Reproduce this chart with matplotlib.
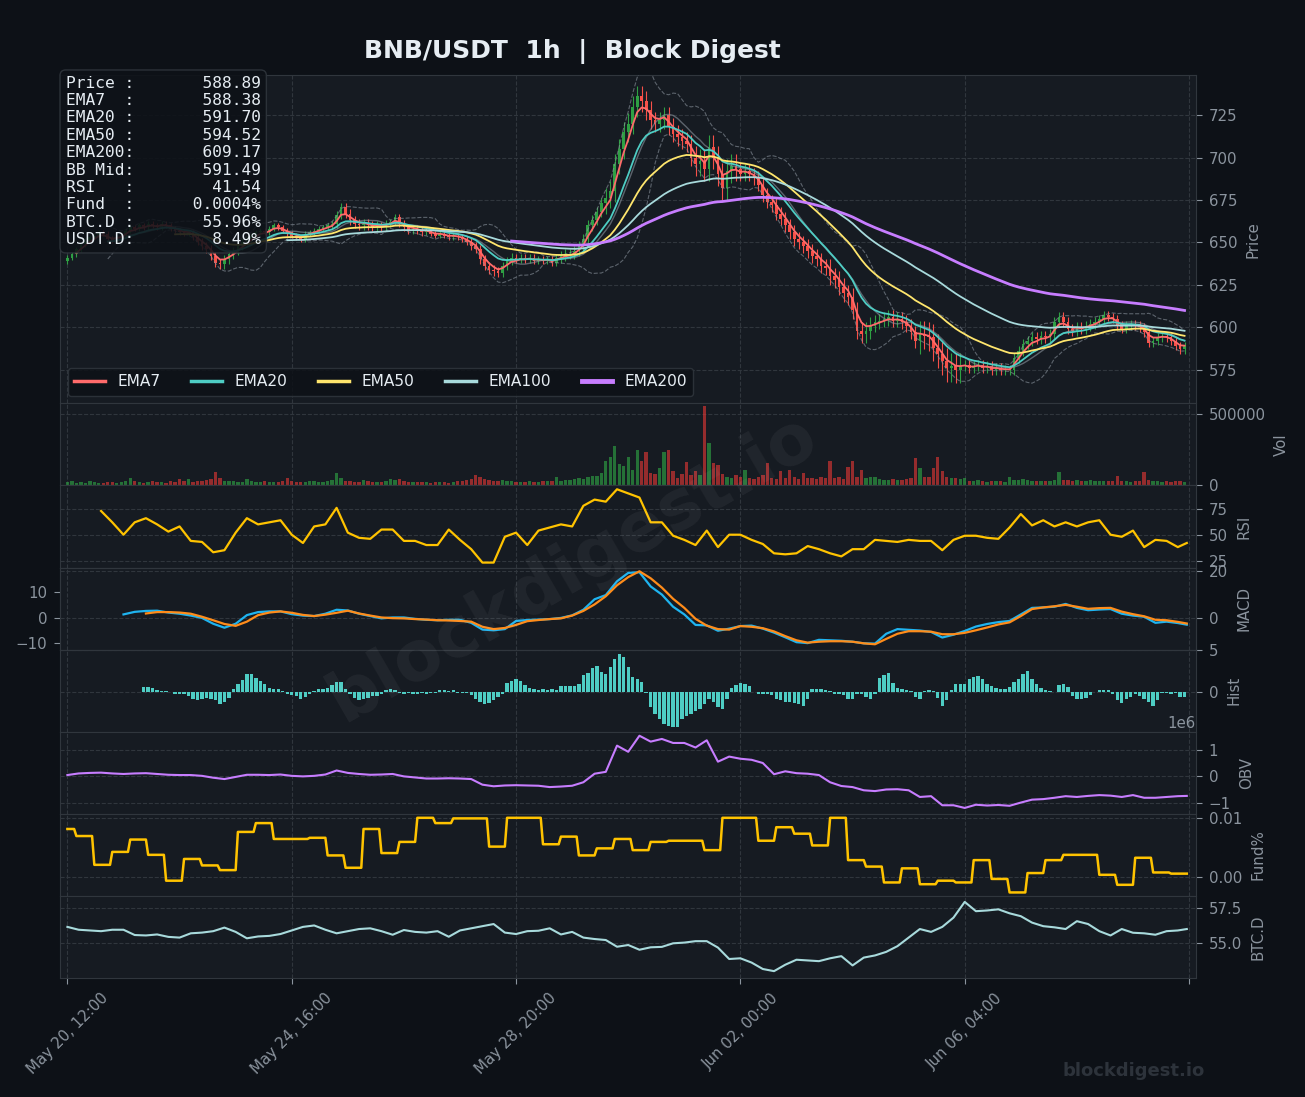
import numpy as np
import pandas as pd
import matplotlib
matplotlib.use("Agg")
import matplotlib.pyplot as plt
from matplotlib.lines import Line2D

BG = "#0d1117"
PANEL = "#161b22"
GRID = "#30363d"
TXT = "#8b949e"
WHITE = "#e6edf3"

# ---- price, 2h candles (x index in hours) ----
close = [
    641, 643, 646, 649, 651, 653, 654, 656, 655, 652,
    651, 653, 654, 657, 659, 658, 660, 659, 661, 660,
    659, 661, 660, 658, 657, 656, 655, 656, 653, 650,
    648, 646, 642, 638, 637, 640, 643, 645, 648, 650,
    652, 654, 656, 657, 656, 658, 660, 659, 657, 655,
    654, 653, 652, 655, 656, 657, 658, 659, 660, 661,
    666, 671, 667, 663, 661, 660, 661, 660, 659, 660,
    659, 661, 662, 665, 661, 659, 657, 658, 657, 656,
    657, 655, 654, 655, 654, 653, 654, 653, 652, 650,
    648, 646, 640, 636, 634, 633, 632, 636, 639, 641,
    640, 641, 640, 641, 639, 640, 639, 640, 638, 641,
    642, 643, 643, 645, 648, 652, 660, 663, 668, 673,
    676, 680, 696, 705, 715, 720, 730, 736, 733, 728,
    722, 720, 722, 725, 718, 714, 712, 710, 708, 700,
    696, 698, 693, 706, 700, 690, 682, 692, 695, 693,
    690, 692, 690, 688, 684, 678, 674, 672, 667, 664,
    660, 656, 652, 650, 648, 645, 642, 640, 636, 635,
    630, 628, 624, 620, 618, 610, 598, 596, 598, 601,
    603, 604, 605, 606, 604, 605, 603, 601, 597, 592,
    596, 595, 594, 588, 584, 580, 576, 577, 575, 577,
    578, 576, 577, 578, 576, 577, 575, 576, 575, 575,
    575, 582, 586, 590, 592, 594, 593, 595, 594, 596,
    603, 606, 603, 599, 598, 600, 599, 601, 602, 603,
    605, 607, 606, 605, 601, 599, 601, 602, 601, 600,
    597, 591, 592, 594, 595, 594, 592, 589, 587, 588.89,
]
# wick length per block of 10 candles
wick = [1.5, 1.5, 1.5, 2.5, 1.5, 1.5, 2.5, 2, 1.5, 2.5,
        2, 3, 6, 5, 7, 4, 4, 5, 4, 8, 3, 3, 3, 2.5, 2.5]

vol_k = [
    25, 30, 18, 22, 20, 28, 24, 18, 20, 26,
    22, 18, 25, 30, 53, 28, 22, 20, 24, 30,
    22, 26, 20, 28, 24, 48, 30, 45, 26, 34,
    30, 36, 42, 96, 55, 34, 28, 30, 24, 26,
    45, 28, 24, 22, 30, 26, 24, 22, 28, 50,
    30, 26, 22, 24, 28, 30, 26, 24, 32, 40,
    90, 55, 34, 30, 26, 24, 40, 28, 24, 22,
    26, 30, 45, 40, 45, 28, 24, 22, 26, 24,
    22, 20, 24, 26, 22, 20, 24, 28, 30, 36,
    44, 75, 60, 45, 38, 34, 30, 36, 30, 28,
    26, 24, 22, 28, 24, 26, 30, 28, 34, 60,
    32, 40, 36, 44, 52, 48, 62, 68, 66, 85,
    170, 200, 280, 150, 135, 200, 110, 250, 170, 235,
    90, 80, 125, 235, 250, 100, 50, 80, 165, 70,
    100, 70, 560, 300, 160, 145, 80, 60, 50, 70,
    60, 110, 50, 45, 60, 70, 160, 55, 45, 100,
    50, 110, 60, 45, 90, 50, 55, 45, 60, 50,
    170, 55, 60, 45, 130, 170, 60, 110, 50, 60,
    60, 45, 40, 35, 45, 40, 35, 45, 50, 190,
    120, 60, 60, 120, 200, 100, 60, 50, 55, 45,
    50, 30, 28, 35, 30, 25, 32, 28, 30, 26,
    60, 35, 40, 45, 38, 30, 28, 34, 30, 32,
    35, 95, 40, 35, 30, 38, 32, 28, 35, 30,
    34, 30, 28, 32, 65, 30, 28, 26, 30, 32,
    95, 35, 28, 30, 26, 30, 24, 28, 30, 26,
]

# MACD histogram, 2h steps starting at candle 17
hist = [
    0.6, 0.6, 0.5, 0.2, 0.1, 0.1, 0.0, -0.2, -0.2, -0.3,
    -0.5, -0.9, -1.0, -0.8, -0.7, -0.8, -1.0, -1.5, -1.2, -0.7,
    0.3, 0.9, 1.4, 2.1, 2.1, 1.7, 1.3, 0.9, 0.5, 0.4,
    0.3, 0.1, -0.3, -0.4, -0.5, -0.8, -0.6, -0.2, 0.1, 0.3,
    0.4, 0.5, 0.8, 1.2, 1.2, 0.3, -0.2, -0.7, -1.0, -0.9,
    -0.7, -0.5, -0.5, -0.3, 0.2, 0.3, 0.2, -0.1, -0.2, -0.1,
    -0.2, -0.2, -0.1, -0.3, -0.1, -0.1, 0.2, 0.2, 0.1, 0.2,
    -0.1, -0.1, -0.1, -0.4, -0.8, -1.2, -1.5, -1.3, -1.0, -0.6,
    -0.2, 1.1, 1.3, 1.5, 1.3, 0.8, 0.5, 0.3, 0.2, 0.3,
    0.2, 0.4, 0.2, 0.7, 0.7, 0.7, 0.7, 1.0, 2.0, 2.3,
    2.9, 3.1, 2.4, 2.2, 3.0, 4.0, 4.6, 4.2, 3.0, 1.8,
    1.6, 1.2, -0.1, -1.8, -2.6, -3.3, -3.9, -4.1, -4.2, -4.2,
    -3.3, -2.9, -2.6, -2.3, -2.0, -1.5, -0.9, -1.2, -1.8, -2.1,
    -0.8, 0.5, 0.8, 1.1, 0.9, 0.7, 0.0, -0.3, -0.3, -0.2,
    -0.4, -0.8, -1.0, -1.2, -1.2, -1.3, -1.5, -1.7, -0.8, 0.3,
    0.3, 0.3, 0.2, 0.1, -0.2, -0.3, -0.4, -0.9, -0.9, -0.3,
    -0.2, -0.6, -0.9, -0.2, 1.7, 2.0, 2.3, 1.1, 0.5, 0.3,
    0.2, 0.1, -0.6, -0.9, 0.1, 0.2, 0.1, -0.7, -1.7, -1.0,
    0.2, 0.9, 0.9, 1.0, 1.5, 1.8, 1.9, 1.6, 1.0, 0.7,
    0.5, 0.4, 0.3, 0.6, 1.2, 1.6, 2.1, 2.5, 1.6, 0.9,
    0.5, 0.2, 0.1, 0.0, 0.8, 0.9, 0.6, -0.5, -0.8, -0.9,
    -0.7, -0.4, 0.0, 0.2, 0.2, 0.2, -0.3, -1.0, -1.3, -0.9,
    -0.6, -0.3, -0.5, -0.8, -1.2, -1.7, -1.0, -0.1, -0.1, -0.2,
    -0.1, -0.6, -0.6,
]

nan = np.nan
# indicators sampled every 5 hours, plus the last hour
rsi = [
    nan, nan, nan, 73, 62, 50, 62, 66, 60, 53,
    58, 44, 43, 33, 35, 52, 66, 60, 62, 64,
    50, 42, 58, 60, 76, 52, 47, 46, 55, 55,
    44, 44, 40, 40, 55, 45, 36, 23, 23, 48,
    52, 40, 54, 57, 60, 58, 78, 84, 82, 94,
    90, 86, 62, 62, 49, 45, 40, 54, 38, 50,
    50, 45, 41, 32, 31, 32, 39, 36, 32, 29,
    36, 36, 45, 44, 43, 45, 44, 44, 35, 45,
    49, 49, 47, 46, 57, 70, 59, 64, 58, 62,
    58, 62, 64, 50, 48, 54, 38, 45, 44, 38,
    42,
]
macd = [
    nan, nan, nan, nan, nan, 1.5, 2.6, 3.0, 3.1, 2.3,
    1.8, 1.0, 0.0, -2.5, -4.2, -2.5, 1.2, 2.5, 2.8, 2.8,
    1.6, 1.0, 0.8, 1.8, 3.5, 3.2, 1.8, 0.8, -0.2, 0.2,
    0.2, -0.4, -0.8, -1.0, -0.8, -0.8, -2.1, -5.0, -5.3, -4.8,
    -1.3, -0.9, -0.7, -0.5, 0.0, 1.1, 3.5, 8.0, 9.8, 15.7,
    19.3, 19.6, 13.5, 10.0, 4.8, 1.5, -3.0, -3.2, -5.5, -4.6,
    -3.5, -3.3, -4.6, -6.3, -8.3, -10.4, -10.8, -9.4, -9.6, -9.8,
    -10.2, -10.9, -11.0, -6.8, -4.8, -5.1, -5.4, -6.0, -8.4, -7.2,
    -5.6, -3.7, -2.6, -1.8, -1.3, 1.5, 4.3, 4.5, 4.8, 6.0,
    4.3, 3.3, 3.6, 3.8, 1.8, 1.0, 0.5, -2.1, -1.6, -2.2,
    -2.9,
]
signal = [
    nan, nan, nan, nan, nan, nan, nan, 1.9, 2.5, 2.5,
    2.3, 1.8, 0.5, -1.0, -2.6, -3.4, -1.6, 1.2, 2.3, 2.8,
    2.2, 1.3, 0.8, 1.4, 2.2, 3.1, 1.9, 1.0, 0.2, -0.1,
    -0.2, -0.5, -0.7, -1.0, -1.1, -1.3, -1.6, -3.8, -4.8, -4.3,
    -3.0, -1.4, -0.9, -0.5, -0.2, 1.0, 3.0, 5.8, 9.3, 14.0,
    17.5, 20.0, 17.0, 13.0, 8.2, 4.3, -0.4, -3.3, -4.8, -5.0,
    -3.5, -3.8, -4.4, -5.8, -7.8, -9.6, -10.6, -10.2, -10.0, -10.0,
    -10.2, -10.9, -11.3, -9.0, -6.8, -5.7, -5.7, -5.9, -7.0, -7.0,
    -6.4, -5.3, -4.1, -2.8, -1.9, 0.8, 3.8, 4.5, 5.0, 5.6,
    4.8, 3.9, 4.2, 4.3, 2.7, 1.6, 0.7, -0.8, -1.0, -1.7,
    -2.4,
]
obv_m = [
    0.05, 0.11, 0.13, 0.14, 0.11, 0.09, 0.11, 0.12, 0.09, 0.06,
    0.05, 0.05, 0.02, -0.05, -0.10, -0.02, 0.06, 0.06, 0.05, 0.07,
    0.02, 0.00, 0.02, 0.07, 0.22, 0.13, 0.09, 0.06, 0.07, 0.09,
    0.00, -0.04, -0.08, -0.08, -0.07, -0.08, -0.10, -0.31, -0.37, -0.34,
    -0.33, -0.34, -0.35, -0.40, -0.38, -0.35, -0.22, 0.10, 0.17, 1.15,
    0.92, 1.52, 1.30, 1.40, 1.25, 1.25, 1.08, 1.35, 0.55, 0.74,
    0.66, 0.62, 0.50, 0.08, 0.19, 0.12, 0.10, 0.05, -0.22, -0.36,
    -0.40, -0.52, -0.55, -0.49, -0.48, -0.52, -0.77, -0.74, -1.08, -1.08,
    -1.18, -1.06, -1.09, -1.07, -1.10, -0.98, -0.87, -0.85, -0.80, -0.74,
    -0.77, -0.73, -0.70, -0.72, -0.77, -0.70, -0.80, -0.80, -0.77, -0.74,
    -0.73,
]
btcd = [
    56.15, 55.95, 55.90, 55.85, 55.95, 55.95, 55.58, 55.55, 55.62, 55.45,
    55.40, 55.70, 55.75, 55.85, 56.10, 55.80, 55.35, 55.48, 55.52, 55.65,
    55.90, 56.15, 56.25, 55.95, 55.70, 55.85, 56.00, 56.05, 55.85, 55.60,
    55.93, 55.80, 55.75, 55.85, 55.46, 55.90, 56.05, 56.20, 56.35, 55.75,
    55.65, 55.85, 55.88, 56.05, 55.62, 55.80, 55.40, 55.30, 55.23, 54.76,
    54.88, 54.55, 54.72, 54.75, 55.00, 55.05, 55.15, 55.15, 54.70, 53.90,
    53.95, 53.65, 53.20, 53.05, 53.50, 53.85, 53.80, 53.75, 53.95, 54.10,
    53.45, 54.00, 54.15, 54.40, 54.80, 55.40, 56.00, 55.80, 56.15, 56.80,
    57.90, 57.25, 57.30, 57.38, 57.10, 56.90, 56.45, 56.20, 56.12, 56.00,
    56.55, 56.35, 55.85, 55.55, 56.00, 55.74, 55.70, 55.60, 55.85, 55.90,
    56.00,
]
# funding rate (%) per 8h period, first period starts at hour -4
fund = [
    0.0081, 0.0069, 0.0020, 0.0042, 0.0063, 0.0037, -0.0007, 0.0030, 0.0019, 0.0011,
    0.0076, 0.0091, 0.0064, 0.0064, 0.0066, 0.0036, 0.0015, 0.0081, 0.0040, 0.0059,
    0.0100, 0.0091, 0.0099, 0.0099, 0.0051, 0.0100, 0.0100, 0.0055, 0.0068, 0.0036,
    0.0048, 0.0064, 0.0045, 0.0059, 0.0061, 0.0061, 0.0045, 0.0100, 0.0100, 0.0061,
    0.0084, 0.0073, 0.0053, 0.0100, 0.0028, 0.0017, -0.0010, 0.0014, -0.0013, -0.0007,
    -0.0010, 0.0028, -0.0004, -0.0027, 0.0006, 0.0028, 0.0037, 0.0037, 0.0003, -0.0014,
    0.0032, 0.0007, 0.0005,
]

info_labels = ["Price :", "EMA7  :", "EMA20 :", "EMA50 :", "EMA200:",
               "BB Mid:", "RSI   :", "Fund  :", "BTC.D :", "USDT.D:"]
info_values = ["588.89", "588.38", "591.70", "594.52", "609.17",
               "591.49", "41.54", "0.0004%", "55.96%", "8.49%"]

tick_pos = [0, 100, 200, 300, 400, 500]
tick_labels = ["May 20, 12:00", "May 24, 16:00", "May 28, 20:00",
               "Jun 02, 00:00", "Jun 06, 04:00", ""]

ema_names = ["EMA7", "EMA20", "EMA50", "EMA100", "EMA200"]
ema_hours = [7, 20, 50, 100, 200]
ema_colors = ["#ff6b6b", "#4ecdc4", "#ffe66d", "#a8dadc", "#c77dff"]

# ---- derived arrays ----
c = np.array(close, float)
o = np.r_[c[0] - 2, c[:-1]]
x2 = np.arange(len(c)) * 2
w = np.repeat(wick, 10)
hi = np.maximum(o, c) + w
lo = np.minimum(o, c) - w
up = c >= o
col = np.where(up, "#2ea043", "#f85149")
vcol = np.where(up, "#2ea043", "#da3633")

s = pd.Series(c)
emas = [s.ewm(span=h / 2, adjust=False, min_periods=h // 2).mean() for h in ema_hours]
bb_mid = s.rolling(10).mean()
bb_sd = s.rolling(10).std(ddof=0)

x5 = np.r_[np.arange(0, 500, 5), 499]
xh = (np.arange(len(hist)) + 17) * 2
fund_h = np.repeat(fund, 8)[4:504]

# ---- figure ----
plt.rcParams["font.size"] = 10.8
fig = plt.figure(figsize=(13.05, 10.97), dpi=100, facecolor=BG)
gs = fig.add_gridspec(8, 1, height_ratios=[4, 1, 1, 1, 1, 1, 1, 1], hspace=0,
                      left=60 / 1305, right=1196 / 1305,
                      top=1 - 75 / 1097, bottom=1 - 978 / 1097)
axes = [fig.add_subplot(gs[0])]
for k in range(1, 8):
    axes.append(fig.add_subplot(gs[k], sharex=axes[0]))
ax_p, ax_v, ax_r, ax_m, ax_h, ax_o, ax_f, ax_b = axes

for ax in axes:
    ax.set_facecolor(PANEL)
    for sp in ax.spines.values():
        sp.set_color(GRID)
    ax.grid(True, color=GRID, ls="--", lw=0.8)
    ax.set_axisbelow(True)
    ax.yaxis.tick_right()
    ax.yaxis.set_label_position("right")
    ax.tick_params(colors=TXT, labelsize=10.8, length=4.2, pad=5)
    ax.yaxis.label.set_color(TXT)
    if ax is not ax_b:
        ax.tick_params(axis="x", bottom=False, labelbottom=False)

# price
ax_p.vlines(x2, lo, hi, colors=col, lw=0.8, zorder=2)
ax_p.bar(x2, np.maximum(np.abs(c - o), 0.4), bottom=np.minimum(o, c),
         width=1.2, color=col, zorder=2)
ax_p.plot(x2, bb_mid + 2 * bb_sd, color=TXT, ls="--", lw=0.8, alpha=0.6, zorder=3)
ax_p.plot(x2, bb_mid - 2 * bb_sd, color=TXT, ls="--", lw=0.8, alpha=0.6, zorder=3)
ax_p.plot(x2, bb_mid, color=TXT, lw=1.0, alpha=0.6, zorder=3)
for e, clr, h in zip(emas, ema_colors, ema_hours):
    ax_p.plot(x2, e, color=clr, lw=2.0 if h == 200 else 1.3, zorder=4)
ax_p.set_ylim(555.2, 748.6)
ax_p.set_yticks([575, 600, 625, 650, 675, 700, 725])
ax_p.set_ylabel("Price", labelpad=6)
handles = [Line2D([], [], color=clr, lw=3.5 if h == 200 else 2.5)
           for clr, h in zip(ema_colors, ema_hours)]
ax_p.legend(handles, ema_names, loc="lower left", ncol=5, fontsize=11.1,
            facecolor=BG, edgecolor=GRID, labelcolor=WHITE, framealpha=0.85)
info = "\n".join(f"{a}{b:>13}" for a, b in zip(info_labels, info_values))
ax_p.text(0.005, 0.998, info, transform=ax_p.transAxes, va="top", ha="left",
          family="DejaVu Sans Mono", fontsize=11.7, color=WHITE, linespacing=1.2,
          zorder=10, bbox=dict(boxstyle="round,pad=0.35", fc=BG, ec=GRID, alpha=0.88))

# volume
ax_v.bar(x2, np.array(vol_k) * 1000, width=1.5, color=vcol, alpha=0.65)
ax_v.set_ylim(0, 576000)
ax_v.set_yticks([0, 500000])
ax_v.set_ylabel("Vol", labelpad=6)

# RSI
ax_r.plot(x5, rsi, color="#ffc300", lw=1.6)
ax_r.set_ylim(18.2, 97.7)
ax_r.set_yticks([25, 50, 75])
ax_r.set_ylabel("RSI", labelpad=6)

# MACD
ax_m2 = ax_m.twinx()
ax_m.yaxis.tick_right()
ax_m.yaxis.set_label_position("right")
ax_m2.yaxis.tick_left()
ax_m.plot(x5, macd, color="#1fb4f0", lw=1.6)
ax_m.plot(x5, signal, color="#ff8c1a", lw=1.6)
ax_m.set_ylim(-13.6, 21.6)
ax_m.set_yticks([0, 20])
ax_m.set_ylabel("MACD", labelpad=6)
ax_m2.set_ylim(-12.45, 19.5)
ax_m2.set_yticks([-10, 0, 10])
ax_m2.tick_params(colors=TXT, labelsize=10.8, length=4.2, pad=5)
for sp in ax_m2.spines.values():
    sp.set_color(GRID)

# histogram
ax_h.bar(xh, hist, width=1.5, color="#4ecdc4")
ax_h.set_ylim(-4.77, 5.08)
ax_h.set_yticks([0, 5])
ax_h.set_ylabel("Hist", labelpad=6)

# OBV
ax_o.plot(x5, np.array(obv_m) * 1e6, color="#c77dff", lw=1.5)
ax_o.set_ylim(-1.40e6, 1.67e6)
ax_o.set_yticks([-1e6, 0, 1e6])
ax_o.yaxis.get_offset_text().set_color(TXT)
ax_o.set_ylabel("OBV", labelpad=6)

# funding
ax_f.plot(np.arange(500), fund_h, color="#ffc300", lw=1.8)
ax_f.set_ylim(-0.00329, 0.01068)
ax_f.set_yticks([0, 0.01])
ax_f.set_ylabel("Fund%", labelpad=6)

# BTC dominance
ax_b.plot(x5, btcd, color="#a8dadc", lw=1.5)
ax_b.set_ylim(52.57, 58.32)
ax_b.set_yticks([55, 57.5])
ax_b.set_ylabel("BTC.D", labelpad=6)

ax_b.set_xlim(-3.3, 503.1)
ax_b.set_xticks(tick_pos)
ax_b.set_xticklabels(tick_labels, rotation=45, ha="center")

fig.text(572.5 / 1305, 1 - 52 / 1097, "BNB/USDT  1h  |  Block Digest", ha="center",
         va="center", fontsize=18, fontweight="bold", color=WHITE)
fig.text(572 / 1305, 1 - 568 / 1097, "blockdigest.io", ha="center", va="center",
         fontsize=50, fontweight="bold", color="white", alpha=0.05, rotation=30)
fig.text(1134 / 1305, 1 - 1071 / 1097, "blockdigest.io", ha="center", va="center",
         fontsize=13, fontweight="bold", color="#2d333b")

fig.savefig("out.png", dpi=100, facecolor=BG)
